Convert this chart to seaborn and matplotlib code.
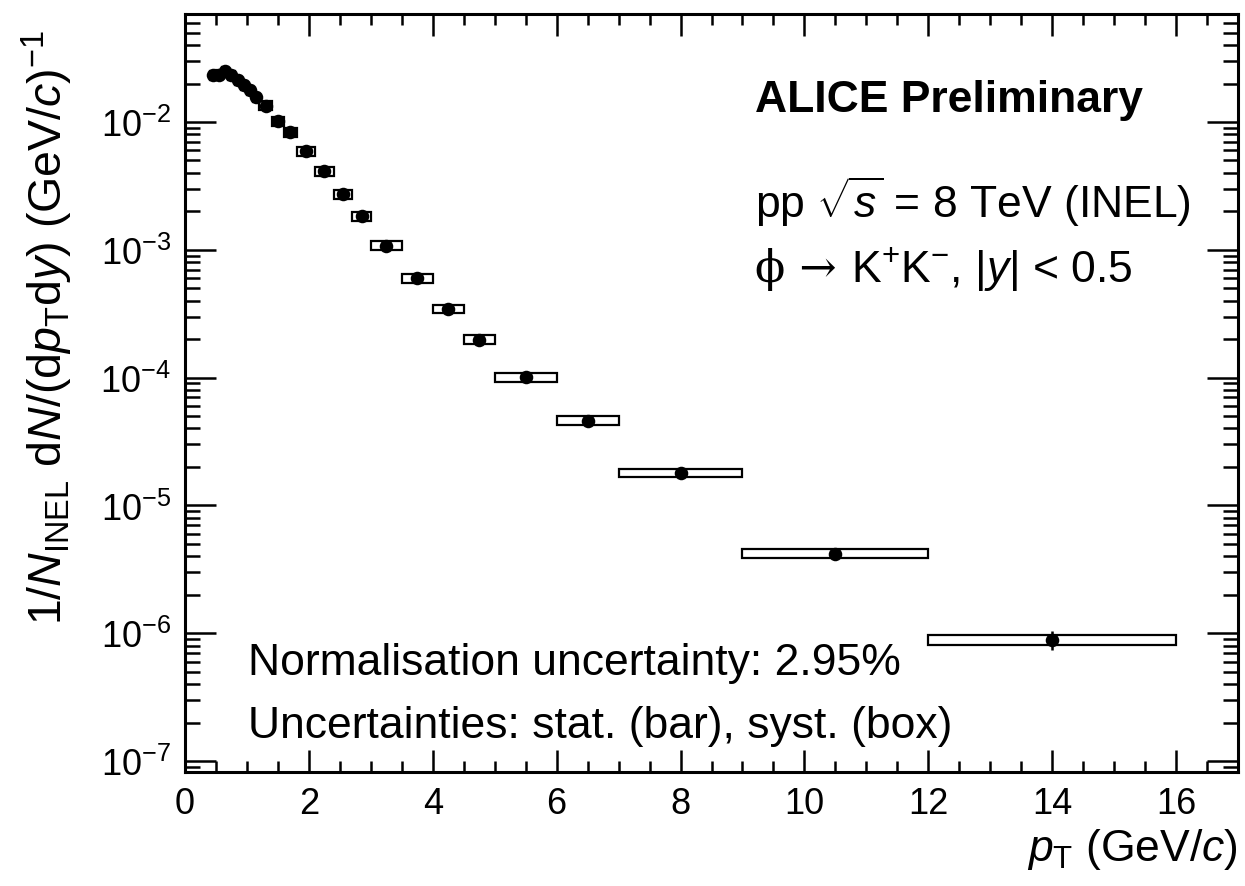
import matplotlib
matplotlib.use("Agg")
import matplotlib.pyplot as plt
from matplotlib.patches import Rectangle
from matplotlib.ticker import MultipleLocator, LogLocator, NullFormatter
import seaborn as sns
import pandas as pd

# bin edges in pT (GeV/c)
pt_edges = [0.4, 0.5, 0.6, 0.7, 0.8, 0.9, 1.0, 1.1, 1.2, 1.4, 1.6, 1.8, 2.1,
            2.4, 2.7, 3.0, 3.5, 4.0, 4.5, 5.0, 6.0, 7.0, 9.0, 12.0, 16.0]
# yields
yields = [0.0233, 0.0235, 0.0250, 0.0233, 0.0213, 0.0195, 0.0178, 0.0157,
          0.0134, 0.0102, 0.0083, 0.0059, 0.0041, 0.00272, 0.00183, 0.00108,
          6.0e-4, 3.45e-4, 1.98e-4, 1.01e-4, 4.6e-5, 1.8e-5, 4.2e-6, 8.9e-7]
# relative uncertainties
stat_rel = [0.01, 0.01, 0.01, 0.01, 0.01, 0.01, 0.01, 0.01, 0.01, 0.01, 0.01,
            0.01, 0.01, 0.01, 0.01, 0.015, 0.015, 0.02, 0.02, 0.02, 0.03, 0.04,
            0.06, 0.17]
syst_rel = [0.08, 0.08, 0.08, 0.08, 0.08, 0.08, 0.08, 0.08, 0.08, 0.08, 0.08,
            0.08, 0.08, 0.08, 0.08, 0.08, 0.08, 0.08, 0.08, 0.08, 0.08, 0.08,
            0.08, 0.09]

df = pd.DataFrame({
    "lo": pt_edges[:-1],
    "hi": pt_edges[1:],
    "y": yields,
    "stat": stat_rel,
    "syst": syst_rel,
})
df["pt"] = (df["lo"] + df["hi"]) / 2

sns.set_theme(style="ticks")
plt.rcParams["font.family"] = ["Liberation Sans", "DejaVu Sans"]
plt.rcParams["mathtext.fontset"] = "custom"
plt.rcParams["mathtext.rm"] = "Liberation Sans"
plt.rcParams["mathtext.it"] = "Liberation Sans:italic"
plt.rcParams["mathtext.bf"] = "Liberation Sans:bold"
plt.rcParams["text.color"] = "black"
plt.rcParams["axes.labelcolor"] = "black"

fig = plt.figure(figsize=(12.45, 8.87), dpi=100)
ax = fig.add_axes([0.1486, 0.1285, 0.8458, 0.8546])

# syst boxes
for _, r in df.iterrows():
    ax.add_patch(Rectangle((r["lo"], r["y"] * (1 - r["syst"])), r["hi"] - r["lo"],
                           r["y"] * 2 * r["syst"], facecolor="white",
                           edgecolor="black", linewidth=1.6, zorder=2))

# stat bars
ax.errorbar(df["pt"], df["y"], yerr=df["y"] * df["stat"], fmt="none",
            ecolor="black", elinewidth=1.8, capsize=0, zorder=3)

sns.scatterplot(data=df, x="pt", y="y", ax=ax, color="black", s=95,
                marker="o", edgecolor="black", linewidth=0, zorder=4)

ax.set_yscale("log")
ax.set_xlim(0, 17)
ax.set_ylim(8.2e-8, 0.070)

ax.xaxis.set_major_locator(MultipleLocator(2))
ax.xaxis.set_minor_locator(MultipleLocator(0.5))
ax.yaxis.set_major_locator(LogLocator(base=10, numticks=20))
ax.yaxis.set_minor_locator(LogLocator(base=10, subs=range(2, 10), numticks=20))
ax.yaxis.set_minor_formatter(NullFormatter())

ax.tick_params(which="both", direction="in", top=True, right=True,
               width=1.8, labelsize=26, colors="black")
ax.tick_params(axis="x", which="major", length=16, pad=10)
ax.tick_params(axis="x", which="minor", length=8)
ax.tick_params(axis="y", which="major", length=22, pad=10)
ax.tick_params(axis="y", which="minor", length=11)
for sp in ax.spines.values():
    sp.set_linewidth(2.2)
    sp.set_color("black")

ax.set_xlabel(r"$p_{\rm T}$ (GeV/$c$)", fontsize=32, loc="right", labelpad=4)
ax.set_ylabel(r"1/$N_{\rm INEL}$ d$N$/(d$p_{\rm T}$d$y$) (GeV/$c$)$^{-1}$",
              fontsize=33.5, loc="top", labelpad=6)
ax.yaxis.set_label_coords(-0.104, 0.98)

ax.text(0.541, 0.872, "ALICE Preliminary", transform=ax.transAxes,
        fontsize=32, fontweight="bold", ha="left", va="baseline")
ax.text(0.541, 0.732, r"pp $\sqrt{s}$ = 8 TeV (INEL)", transform=ax.transAxes,
        fontsize=32, ha="left", va="baseline")
ax.text(0.541, 0.648, "ϕ →", transform=ax.transAxes, fontsize=32,
        family=["DejaVu Serif", "DejaVu Sans"], ha="left", va="baseline")
ax.text(0.632, 0.648, r"K$^{+}$K$^{-}$, |$y$| < 0.5",
        transform=ax.transAxes, fontsize=32, ha="left", va="baseline")
ax.text(0.060, 0.129, "Normalisation uncertainty: 2.95%", transform=ax.transAxes,
        fontsize=32, ha="left", va="baseline")
ax.text(0.060, 0.046, "Uncertainties: stat. (bar), syst. (box)",
        transform=ax.transAxes, fontsize=32, ha="left", va="baseline")

fig.savefig("out.png", dpi=100)
